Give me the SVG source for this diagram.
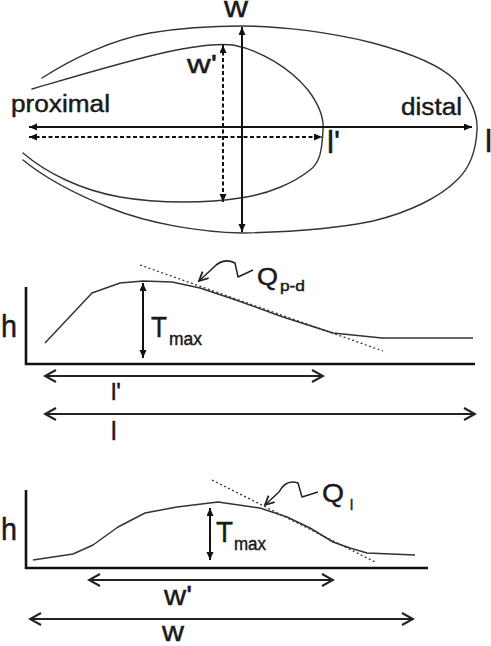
<svg xmlns="http://www.w3.org/2000/svg" width="491" height="646" viewBox="0 0 491 646">
<style>
  text { font-family: "Liberation Sans", Arial, sans-serif; fill: #1a1a1a; stroke: #1a1a1a; stroke-width: 0.45; }
  .outline { fill: none; stroke: #333; stroke-width: 1.4; stroke-linejoin: round; stroke-linecap: round; }
  .arr { fill: none; stroke: #111; stroke-width: 2; }
  .dash { fill: none; stroke: #111; stroke-width: 2; stroke-dasharray: 4 2.5; }
  .axis { fill: none; stroke: #111; stroke-width: 2.6; }
  .curve { fill: none; stroke: #333; stroke-width: 1.5; stroke-linejoin: round; }
  .tan { fill: none; stroke: #333; stroke-width: 1.3; stroke-dasharray: 2 2.5; }
  .dim { fill: none; stroke: #222; stroke-width: 1.8; }
  .sq { fill: none; stroke: #222; stroke-width: 1.5; stroke-linejoin: round; }
</style>
<defs>
  <marker id="tri" markerUnits="userSpaceOnUse" markerWidth="9" markerHeight="8" refX="8" refY="3.5" orient="auto-start-reverse">
    <path d="M0,0 L8,3.5 L0,7 z" fill="#111"/>
  </marker>
  <marker id="chev" markerUnits="userSpaceOnUse" markerWidth="14" markerHeight="16" refX="12" refY="7" orient="auto-start-reverse">
    <path d="M1,1 L12,7 L1,13" fill="none" stroke="#222" stroke-width="2"/>
  </marker>
  <marker id="vee" markerUnits="userSpaceOnUse" markerWidth="12" markerHeight="12" refX="10" refY="5" orient="auto">
    <path d="M1,0.5 L10,5 L1,9.5" fill="none" stroke="#222" stroke-width="1.8"/>
  </marker>
</defs>

<!-- Top panel: outlines -->
<g id="outer-outline">
  <path class="outline" d="M42,78 C70,60 110,40 150,33 C180,28 210,26 242,26 C280,26 330,32 373,43 C410,53 440,65 455,80 C470,97 478,115 477,130 C476,150 470,168 457,180 C440,197 410,212 373,221 C340,228 290,232 242,233 C200,232 150,224 110,208 C75,194 45,178 23,160"/>
</g>
<g id="inner-outline">
  <path class="outline" d="M32,89 C80,75 130,60 167,52 C190,47 215,43 233,45 C260,50 290,68 308,90 C320,106 324,120 323,130 C322,150 320,163 310,170 C295,182 270,194 240,198 C210,203 160,204 120,197 C80,190 45,172 23,153"/>
</g>

<!-- Connectors -->
<g id="connectors">
  <line class="arr" x1="29" y1="127" x2="472" y2="127" marker-start="url(#tri)" marker-end="url(#tri)"/>
  <line class="dash" x1="29" y1="137" x2="322" y2="137" marker-start="url(#tri)" marker-end="url(#tri)"/>
  <line class="arr" x1="242" y1="27" x2="242" y2="232" marker-start="url(#tri)" marker-end="url(#tri)"/>
  <line class="dash" x1="223" y1="45" x2="223" y2="202" marker-start="url(#tri)" marker-end="url(#tri)"/>

  <!-- middle panel -->
  <line class="arr" x1="143" y1="283" x2="143" y2="358" marker-start="url(#tri)" marker-end="url(#tri)"/>
  <path class="sq" d="M253,270 L238,277 L235,263 Q223,257 213,268 L199,281" marker-end="url(#vee)"/>
  <line class="dim" x1="45" y1="376" x2="323" y2="376" marker-start="url(#chev)" marker-end="url(#chev)"/>
  <line class="dim" x1="45" y1="414" x2="475" y2="414" marker-start="url(#chev)" marker-end="url(#chev)"/>

  <!-- bottom panel -->
  <line class="arr" x1="210" y1="508" x2="210" y2="560" marker-start="url(#tri)" marker-end="url(#tri)"/>
  <path class="sq" d="M318,492 L302,497 L298,483 Q286,479 279,492 L265,505" marker-end="url(#vee)"/>
  <line class="dim" x1="89" y1="580" x2="333" y2="580" marker-start="url(#chev)" marker-end="url(#chev)"/>
  <line class="dim" x1="30" y1="619" x2="413" y2="619" marker-start="url(#chev)" marker-end="url(#chev)"/>
</g>

<!-- Top labels -->
<g id="label-w-top"><text x="224" y="17" font-size="29" textLength="24" lengthAdjust="spacingAndGlyphs">w</text></g>
<g id="label-wprime-top"><text x="187" y="73" font-size="26" textLength="30" lengthAdjust="spacingAndGlyphs">w'</text></g>
<g id="label-proximal"><text x="11" y="112" font-size="23" textLength="99" lengthAdjust="spacingAndGlyphs">proximal</text></g>
<g id="label-distal"><text x="401" y="115" font-size="23" textLength="61" lengthAdjust="spacingAndGlyphs">distal</text></g>
<g id="label-lprime-top"><text x="327" y="153" font-size="31" textLength="13" lengthAdjust="spacingAndGlyphs">l'</text></g>
<g id="label-l-top"><text x="485" y="152" font-size="32">l</text></g>

<!-- Middle panel -->
<g id="profile-pd">
  <path class="axis" d="M26,287 V364 H475"/>
  <polyline class="curve" points="45,343 92,293 120,283 143,281 172,282 200,288 233,299 283,317 333,333 382,338 473,338"/>
  <line class="tan" x1="140" y1="265" x2="383" y2="351"/>
  <text x="1" y="337" font-size="31" textLength="16" lengthAdjust="spacingAndGlyphs">h</text>
  <text x="151" y="337" font-size="30" textLength="16" lengthAdjust="spacingAndGlyphs">T</text>
  <text x="169" y="345" font-size="18" textLength="33" lengthAdjust="spacingAndGlyphs">max</text>
  <text x="257" y="285" font-size="24" textLength="21" lengthAdjust="spacingAndGlyphs">Q</text>
  <text x="280" y="291" font-size="15" textLength="25" lengthAdjust="spacingAndGlyphs">p-d</text>
  <text x="111" y="400" font-size="24" textLength="10" lengthAdjust="spacingAndGlyphs">l'</text>
  <text x="111" y="440" font-size="25">l</text>
</g>

<!-- Bottom panel -->
<g id="profile-l">
  <path class="axis" d="M26,490 V568 H428"/>
  <polyline class="curve" points="33,560 73,554 93,545 118,527 145,513 177,507 218,502 260,508 287,517 310,528 333,542 350,548 367,553 415,555"/>
  <line class="tan" x1="212" y1="480" x2="375" y2="562"/>
  <text x="1" y="540" font-size="31" textLength="16" lengthAdjust="spacingAndGlyphs">h</text>
  <text x="216" y="542" font-size="30" textLength="17" lengthAdjust="spacingAndGlyphs">T</text>
  <text x="234" y="550" font-size="18" textLength="32" lengthAdjust="spacingAndGlyphs">max</text>
  <text x="322" y="502" font-size="26" textLength="22" lengthAdjust="spacingAndGlyphs">Q</text>
  <text x="350" y="510" font-size="14">l</text>
  <text x="164" y="605" font-size="28" textLength="28" lengthAdjust="spacingAndGlyphs">w'</text>
  <text x="162" y="641" font-size="27" textLength="22" lengthAdjust="spacingAndGlyphs">w</text>
</g>
</svg>
